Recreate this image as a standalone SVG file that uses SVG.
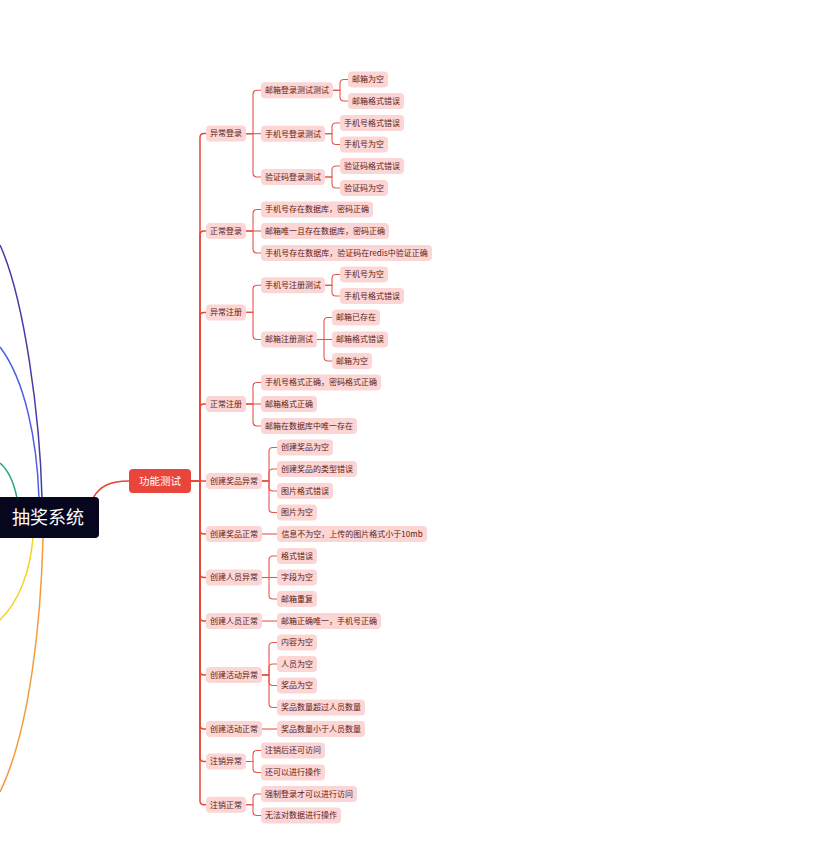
<svg xmlns="http://www.w3.org/2000/svg" width="830" height="843" viewBox="0 0 830 843">
<style>
.bg{fill:#ffffff}
.n rect{fill:#fbd6d4}
.n text{font-family:"Noto Sans CJK SC","Noto Sans",sans-serif;font-size:8px;fill:#5e1b17;text-anchor:middle}
.main rect{fill:#e8453c}
.main text{font-family:"Noto Sans CJK SC","Noto Sans",sans-serif;font-size:10.5px;fill:#ffffff;text-anchor:middle}
.root rect{fill:#06061f}
.root text{font-family:"Noto Sans CJK SC","Noto Sans",sans-serif;font-size:18px;fill:#ffffff;text-anchor:middle}
.c1{fill:none;stroke:#e8453c;stroke-width:1.5}
.c2{fill:none;stroke:#e5564c;stroke-width:1.1}
.lc{fill:none;stroke-width:1.5}
</style>
<rect class="bg" x="0" y="0" width="830" height="843"/>
<g id="connectors">
  <path class="lc" stroke="#4a3aa8" d="M42,498 C40,420 25,300 0,245"/>
  <path class="lc" stroke="#4b5fe0" d="M39,498 C37,440 25,380 0,347"/>
  <path class="lc" stroke="#1aae72" d="M17,498 C14,483 8,470 0,463"/>
  <path class="lc" stroke="#f0d41e" d="M33,538 C30,570 20,600 0,620"/>
  <path class="lc" stroke="#f59a3c" d="M43,538 C41,620 30,730 0,792"/>
  <path class="c1" d="M93,498 C100,486 110,481 129,481"/>
  <path class="c1" d="M191,481 H200 V137.6 Q200,133.6 204,133.6 H206"/>
  <path class="c1" d="M191,481 H200 V235 Q200,231 204,231 H206"/>
  <path class="c1" d="M191,481 H200 V316.4 Q200,312.4 204,312.4 H206"/>
  <path class="c1" d="M191,481 H200 V408 Q200,404 204,404 H206"/>
  <path class="c1" d="M191,481 H206"/>
  <path class="c1" d="M191,481 H200 V530 Q200,534 204,534 H206"/>
  <path class="c1" d="M191,481 H200 V573.5 Q200,577.5 204,577.5 H206"/>
  <path class="c1" d="M191,481 H200 V617 Q200,621 204,621 H206"/>
  <path class="c1" d="M191,481 H200 V671 Q200,675 204,675 H206"/>
  <path class="c1" d="M191,481 H200 V725 Q200,729 204,729 H206"/>
  <path class="c1" d="M191,481 H200 V757.5 Q200,761.5 204,761.5 H206"/>
  <path class="c1" d="M191,481 H200 V800.75 Q200,804.75 204,804.75 H206"/>
  <path class="c2" d="M246,133.6 H253 V94.25 Q253,90.25 257,90.25 H261"/>
  <path class="c2" d="M246,133.7 H261"/>
  <path class="c2" d="M246,133.6 H253 V173 Q253,177 257,177 H261"/>
  <path class="c2" d="M246,231 H253 V213.5 Q253,209.5 257,209.5 H261"/>
  <path class="c2" d="M246,231 H261"/>
  <path class="c2" d="M246,231 H253 V249 Q253,253 257,253 H261"/>
  <path class="c2" d="M246,312.4 H253 V289.25 Q253,285.25 257,285.25 H261"/>
  <path class="c2" d="M246,312.4 H253 V335.5 Q253,339.5 257,339.5 H261"/>
  <path class="c2" d="M246,404 H253 V386.5 Q253,382.5 257,382.5 H261"/>
  <path class="c2" d="M246,404 H261"/>
  <path class="c2" d="M246,404 H253 V422 Q253,426 257,426 H261"/>
  <path class="c2" d="M262,481 H269 V451.5 Q269,447.5 273,447.5 H277"/>
  <path class="c2" d="M262,481 H269 V473 Q269,469 273,469 H277"/>
  <path class="c2" d="M262,481 H269 V487 Q269,491 273,491 H277"/>
  <path class="c2" d="M262,481 H269 V508.5 Q269,512.5 273,512.5 H277"/>
  <path class="c2" d="M262,534 H277"/>
  <path class="c2" d="M262,577.5 H269 V560 Q269,556 273,556 H277"/>
  <path class="c2" d="M262,577.5 H277"/>
  <path class="c2" d="M262,577.5 H269 V595 Q269,599 273,599 H277"/>
  <path class="c2" d="M262,621 H277"/>
  <path class="c2" d="M262,675 H269 V646.5 Q269,642.5 273,642.5 H277"/>
  <path class="c2" d="M262,675 H269 V668 Q269,664 273,664 H277"/>
  <path class="c2" d="M262,675 H269 V681.5 Q269,685.5 273,685.5 H277"/>
  <path class="c2" d="M262,675 H269 V703.5 Q269,707.5 273,707.5 H277"/>
  <path class="c2" d="M262,729 H277"/>
  <path class="c2" d="M246,761.5 H253 V754.5 Q253,750.5 257,750.5 H261"/>
  <path class="c2" d="M246,761.5 H253 V768.5 Q253,772.5 257,772.5 H261"/>
  <path class="c2" d="M246,804.75 H253 V798 Q253,794 257,794 H261"/>
  <path class="c2" d="M246,804.75 H253 V811.5 Q253,815.5 257,815.5 H261"/>
  <path class="c2" d="M333,90.25 H340 V83.5 Q340,79.5 344,79.5 H348"/>
  <path class="c2" d="M333,90.25 H340 V97 Q340,101 344,101 H348"/>
  <path class="c2" d="M325,133.75 H332 V127 Q332,123 336,123 H340"/>
  <path class="c2" d="M325,133.75 H332 V140.5 Q332,144.5 336,144.5 H340"/>
  <path class="c2" d="M325,177 H332 V170 Q332,166 336,166 H340"/>
  <path class="c2" d="M325,177 H332 V184 Q332,188 336,188 H340"/>
  <path class="c2" d="M325,285.25 H332 V278.5 Q332,274.5 336,274.5 H340"/>
  <path class="c2" d="M325,285.25 H332 V292 Q332,296 336,296 H340"/>
  <path class="c2" d="M317,339.5 H324 V321.5 Q324,317.5 328,317.5 H332"/>
  <path class="c2" d="M317,339.5 H332"/>
  <path class="c2" d="M317,339.5 H324 V357 Q324,361 328,361 H332"/>
</g>
<g id="root" class="root"><rect x="-6" y="497" width="105" height="41" rx="4"/><text x="48" y="524">抽奖系统</text></g>
<g id="func" class="main"><rect x="129" y="469" width="62" height="24" rx="4"/><text x="160" y="484.7">功能测试</text></g>

<g id="n1" class="n"><rect x="206" y="125.6" width="40" height="16" rx="4"/><text x="226" y="136.4">异常登录</text></g>
<g id="n2" class="n"><rect x="206" y="223" width="40" height="16" rx="4"/><text x="226" y="233.8">正常登录</text></g>
<g id="n3" class="n"><rect x="206" y="304.4" width="40" height="16" rx="4"/><text x="226" y="315.2">异常注册</text></g>
<g id="n4" class="n"><rect x="206" y="396" width="40" height="16" rx="4"/><text x="226" y="406.8">正常注册</text></g>
<g id="n5" class="n"><rect x="206" y="473" width="56" height="16" rx="4"/><text x="234" y="483.8">创建奖品异常</text></g>
<g id="n6" class="n"><rect x="206" y="526" width="56" height="16" rx="4"/><text x="234" y="536.8">创建奖品正常</text></g>
<g id="n7" class="n"><rect x="206" y="569.5" width="56" height="16" rx="4"/><text x="234" y="580.3">创建人员异常</text></g>
<g id="n8" class="n"><rect x="206" y="613" width="56" height="16" rx="4"/><text x="234" y="623.8">创建人员正常</text></g>
<g id="n9" class="n"><rect x="206" y="667" width="56" height="16" rx="4"/><text x="234" y="677.8">创建活动异常</text></g>
<g id="n10" class="n"><rect x="206" y="721" width="56" height="16" rx="4"/><text x="234" y="731.8">创建活动正常</text></g>
<g id="n11" class="n"><rect x="206" y="753.5" width="40" height="16" rx="4"/><text x="226" y="764.3">注销异常</text></g>
<g id="n12" class="n"><rect x="206" y="796.75" width="40" height="16" rx="4"/><text x="226" y="807.55">注销正常</text></g>

<g id="n1a" class="n"><rect x="261" y="82.25" width="72" height="16" rx="4"/><text x="297" y="93.05">邮箱登录测试测试</text></g>
<g id="n1b" class="n"><rect x="261" y="125.75" width="64" height="16" rx="4"/><text x="293" y="136.55">手机号登录测试</text></g>
<g id="n1c" class="n"><rect x="261" y="169" width="64" height="16" rx="4"/><text x="293" y="179.8">验证码登录测试</text></g>
<g id="n1a1" class="n"><rect x="348" y="71.5" width="40" height="16" rx="4"/><text x="368" y="82.3">邮箱为空</text></g>
<g id="n1a2" class="n"><rect x="348" y="93" width="56" height="16" rx="4"/><text x="376" y="103.8">邮箱格式错误</text></g>
<g id="n1b1" class="n"><rect x="340" y="115" width="64" height="16" rx="4"/><text x="372" y="125.8">手机号格式错误</text></g>
<g id="n1b2" class="n"><rect x="340" y="136.5" width="48" height="16" rx="4"/><text x="364" y="147.3">手机号为空</text></g>
<g id="n1c1" class="n"><rect x="340" y="158" width="64" height="16" rx="4"/><text x="372" y="168.8">验证码格式错误</text></g>
<g id="n1c2" class="n"><rect x="340" y="180" width="48" height="16" rx="4"/><text x="364" y="190.8">验证码为空</text></g>

<g id="n2a" class="n"><rect x="261" y="201.5" width="112" height="16" rx="4"/><text x="317" y="212.3">手机号存在数据库，密码正确</text></g>
<g id="n2b" class="n"><rect x="261" y="223" width="128" height="16" rx="4"/><text x="325" y="233.8">邮箱唯一且存在数据库，密码正确</text></g>
<g id="n2c" class="n"><rect x="261" y="245" width="171" height="16" rx="4"/><text x="346.5" y="255.8">手机号存在数据库，验证码在redis中验证正确</text></g>

<g id="n3a" class="n"><rect x="261" y="277.25" width="64" height="16" rx="4"/><text x="293" y="288.05">手机号注册测试</text></g>
<g id="n3b" class="n"><rect x="261" y="331.5" width="56" height="16" rx="4"/><text x="289" y="342.3">邮箱注册测试</text></g>
<g id="n3a1" class="n"><rect x="340" y="266.5" width="48" height="16" rx="4"/><text x="364" y="277.3">手机号为空</text></g>
<g id="n3a2" class="n"><rect x="340" y="288" width="64" height="16" rx="4"/><text x="372" y="298.8">手机号格式错误</text></g>
<g id="n3b1" class="n"><rect x="332" y="309.5" width="48" height="16" rx="4"/><text x="356" y="320.3">邮箱已存在</text></g>
<g id="n3b2" class="n"><rect x="332" y="331.5" width="56" height="16" rx="4"/><text x="360" y="342.3">邮箱格式错误</text></g>
<g id="n3b3" class="n"><rect x="332" y="353" width="40" height="16" rx="4"/><text x="352" y="363.8">邮箱为空</text></g>

<g id="n4a" class="n"><rect x="261" y="374.5" width="120" height="16" rx="4"/><text x="321" y="385.3">手机号格式正确，密码格式正确</text></g>
<g id="n4b" class="n"><rect x="261" y="396" width="56" height="16" rx="4"/><text x="289" y="406.8">邮箱格式正确</text></g>
<g id="n4c" class="n"><rect x="261" y="418" width="96" height="16" rx="4"/><text x="309" y="428.8">邮箱在数据库中唯一存在</text></g>

<g id="n5a" class="n"><rect x="277" y="439.5" width="56" height="16" rx="4"/><text x="305" y="450.3">创建奖品为空</text></g>
<g id="n5b" class="n"><rect x="277" y="461" width="80" height="16" rx="4"/><text x="317" y="471.8">创建奖品的类型错误</text></g>
<g id="n5c" class="n"><rect x="277" y="483" width="56" height="16" rx="4"/><text x="305" y="493.8">图片格式错误</text></g>
<g id="n5d" class="n"><rect x="277" y="504.5" width="40" height="16" rx="4"/><text x="297" y="515.3">图片为空</text></g>
<g id="n6a" class="n"><rect x="277" y="526" width="150" height="16" rx="4"/><text x="352" y="536.8">信息不为空，上传的图片格式小于10mb</text></g>
<g id="n7a" class="n"><rect x="277" y="548" width="40" height="16" rx="4"/><text x="297" y="558.8">格式错误</text></g>
<g id="n7b" class="n"><rect x="277" y="569.5" width="40" height="16" rx="4"/><text x="297" y="580.3">字段为空</text></g>
<g id="n7c" class="n"><rect x="277" y="591" width="40" height="16" rx="4"/><text x="297" y="601.8">邮箱重复</text></g>
<g id="n8a" class="n"><rect x="277" y="613" width="104" height="16" rx="4"/><text x="329" y="623.8">邮箱正确唯一，手机号正确</text></g>
<g id="n9a" class="n"><rect x="277" y="634.5" width="40" height="16" rx="4"/><text x="297" y="645.3">内容为空</text></g>
<g id="n9b" class="n"><rect x="277" y="656" width="40" height="16" rx="4"/><text x="297" y="666.8">人员为空</text></g>
<g id="n9c" class="n"><rect x="277" y="677.5" width="40" height="16" rx="4"/><text x="297" y="688.3">奖品为空</text></g>
<g id="n9d" class="n"><rect x="277" y="699.5" width="88" height="16" rx="4"/><text x="321" y="710.3">奖品数量超过人员数量</text></g>
<g id="n10a" class="n"><rect x="277" y="721" width="88" height="16" rx="4"/><text x="321" y="731.8">奖品数量小于人员数量</text></g>
<g id="n11a" class="n"><rect x="261" y="742.5" width="64" height="16" rx="4"/><text x="293" y="753.3">注销后还可访问</text></g>
<g id="n11b" class="n"><rect x="261" y="764.5" width="64" height="16" rx="4"/><text x="293" y="775.3">还可以进行操作</text></g>
<g id="n12a" class="n"><rect x="261" y="786" width="96" height="16" rx="4"/><text x="309" y="796.8">强制登录才可以进行访问</text></g>
<g id="n12b" class="n"><rect x="261" y="807.5" width="80" height="16" rx="4"/><text x="301" y="818.3">无法对数据进行操作</text></g>
</svg>
